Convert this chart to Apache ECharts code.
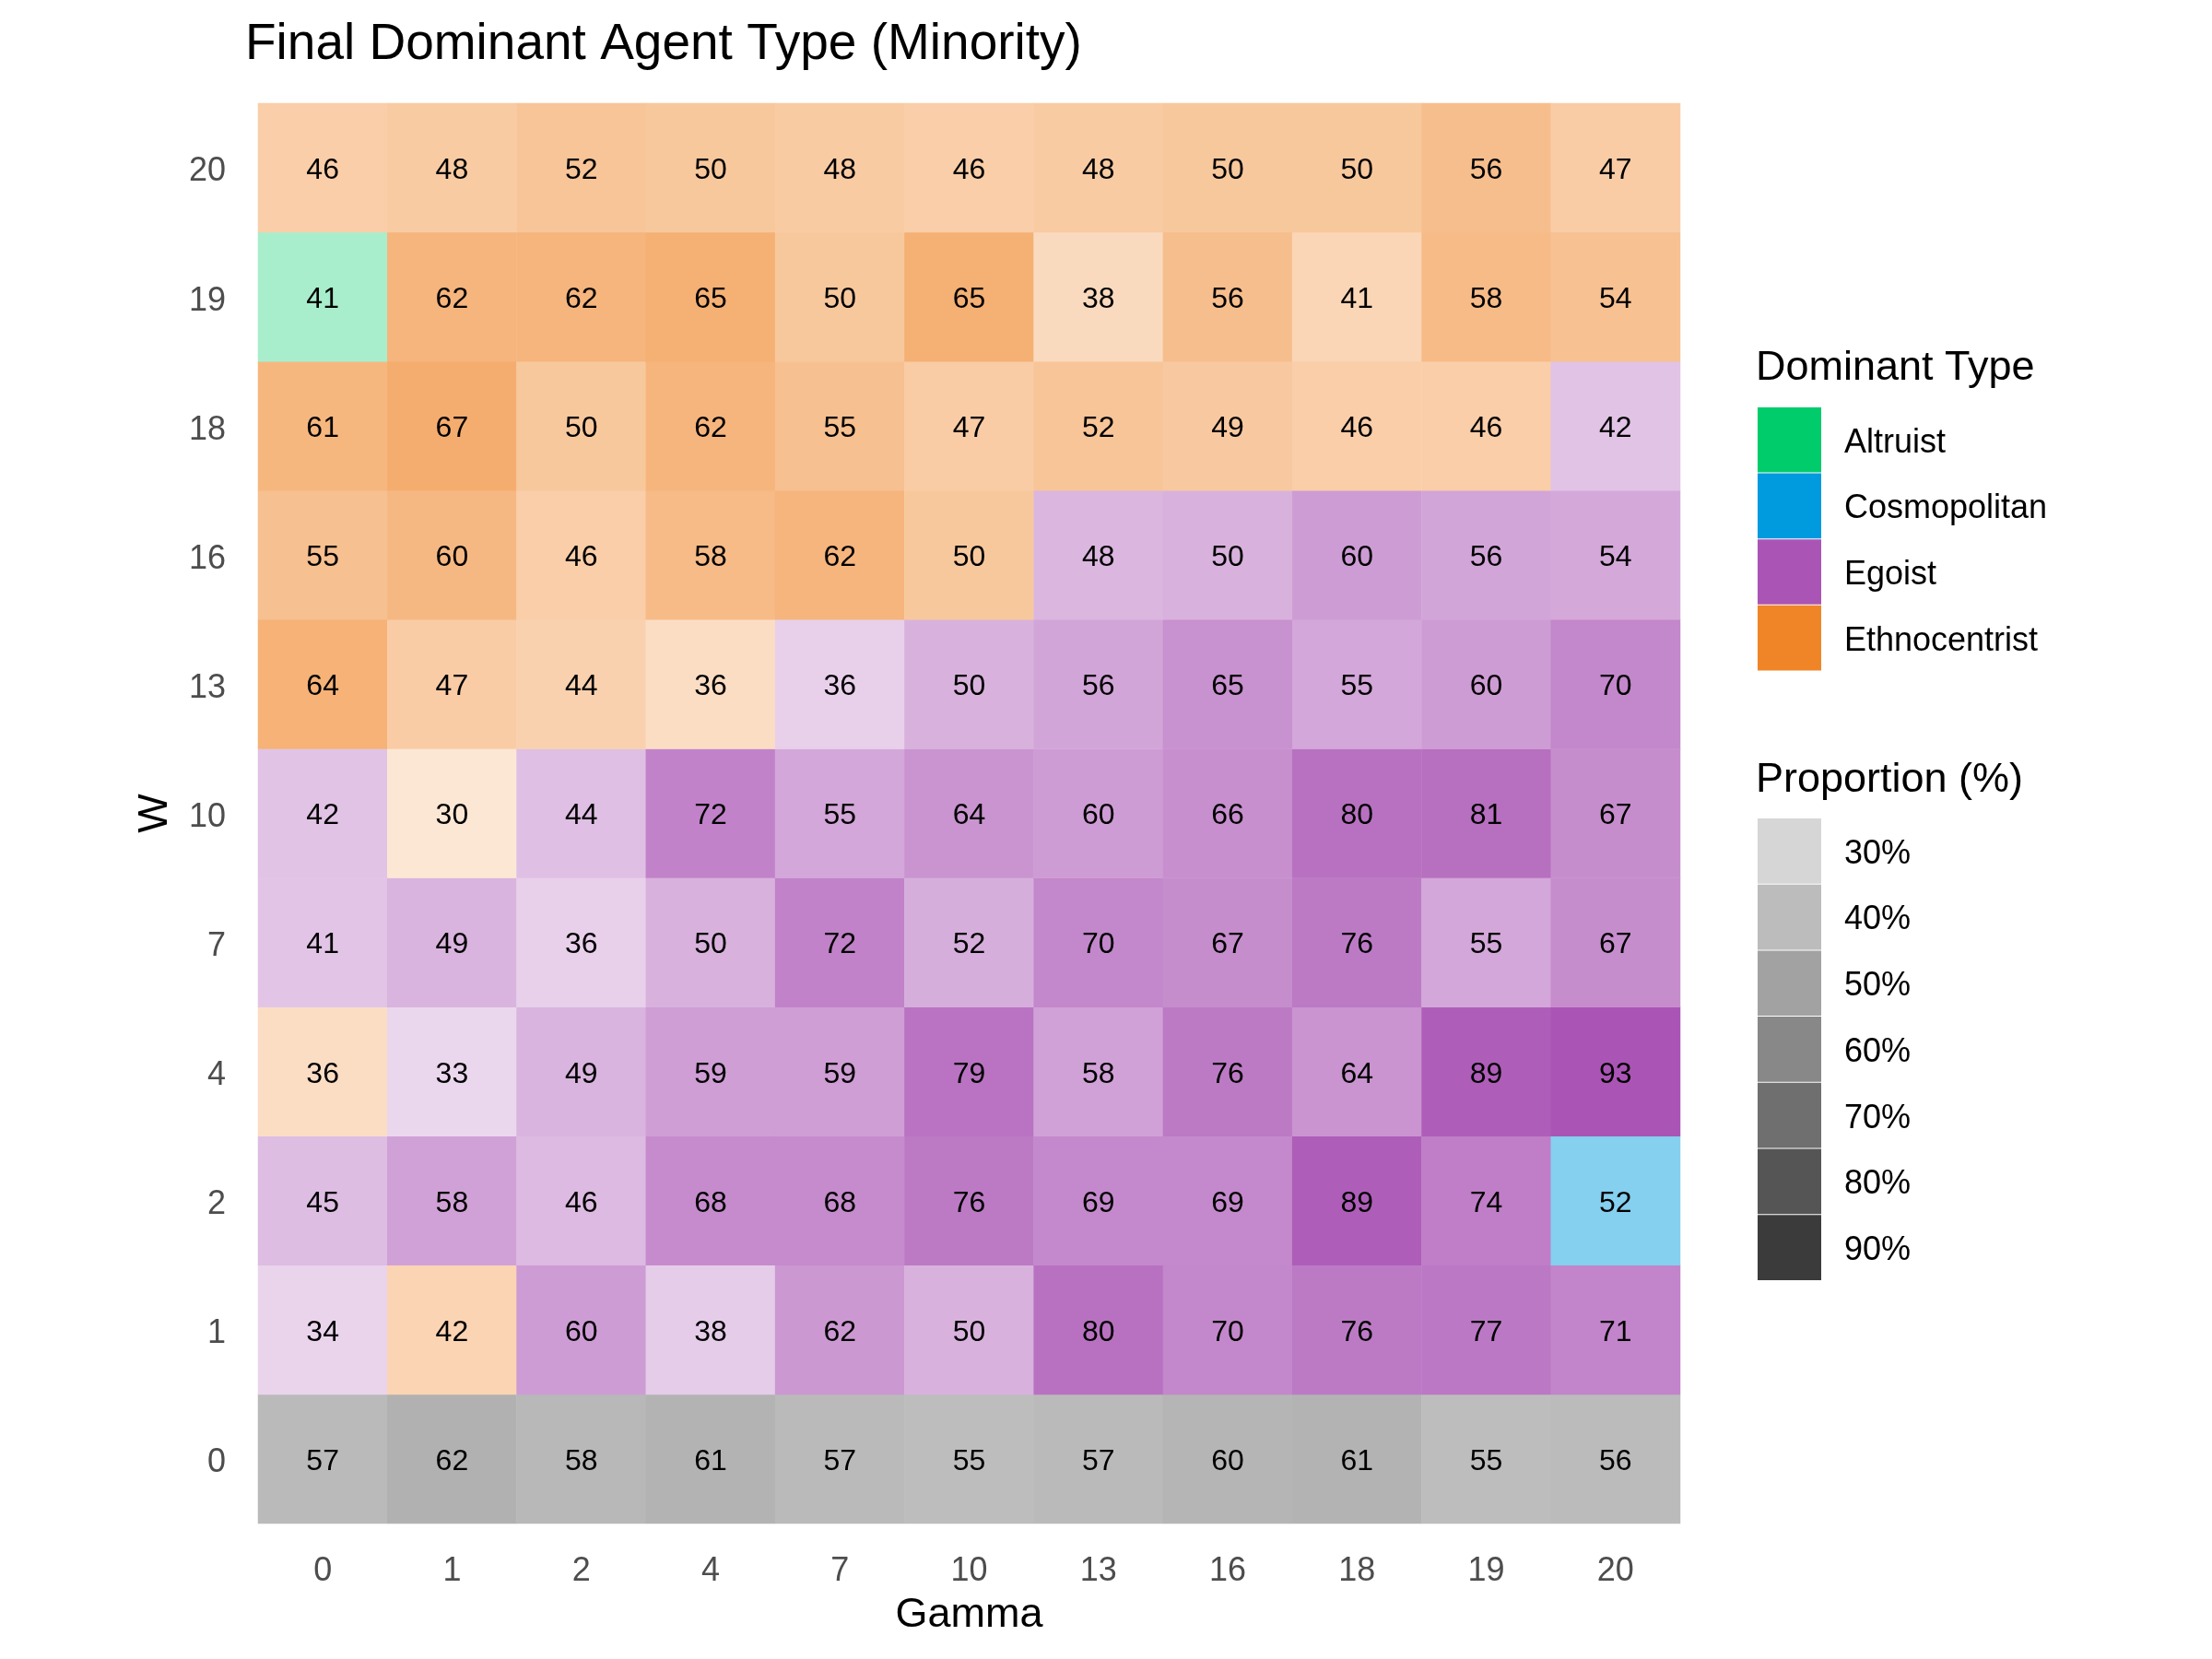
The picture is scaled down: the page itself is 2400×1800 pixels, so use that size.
<!DOCTYPE html>
<html>
<head>
<meta charset="utf-8">
<script src="https://cdn.jsdelivr.net/npm/echarts@6/dist/echarts.min.js"></script>
<style>
  html, body { margin: 0; padding: 0; background: #ffffff; }
  #chart { width: 2400px; height: 1800px; }
</style>
</head>
<body>
<div id="chart"></div>
<script>
// ---- Data ----
const gammaLabels = ['0', '1', '2', '4', '7', '10', '13', '16', '18', '19', '20'];
const wLabels = ['0', '1', '2', '4', '7', '10', '13', '16', '18', '19', '20'];
const typeNames = ['Altruist', 'Cosmopolitan', 'Egoist', 'Ethnocentrist'];
const proportionBreaks = ['30%', '40%', '50%', '60%', '70%', '80%', '90%'];
const proportionBreakValues = [30, 40, 50, 60, 70, 80, 90];

// proportion (%) rows, W ascending (row 0 = W 0), columns follow gammaLabels
const propW0  = [57, 62, 58, 61, 57, 55, 57, 60, 61, 55, 56];
const propW1  = [34, 42, 60, 38, 62, 50, 80, 70, 76, 77, 71];
const propW2  = [45, 58, 46, 68, 68, 76, 69, 69, 89, 74, 52];
const propW4  = [36, 33, 49, 59, 59, 79, 58, 76, 64, 89, 93];
const propW7  = [41, 49, 36, 50, 72, 52, 70, 67, 76, 55, 67];
const propW10 = [42, 30, 44, 72, 55, 64, 60, 66, 80, 81, 67];
const propW13 = [64, 47, 44, 36, 36, 50, 56, 65, 55, 60, 70];
const propW16 = [55, 60, 46, 58, 62, 50, 48, 50, 60, 56, 54];
const propW18 = [61, 67, 50, 62, 55, 47, 52, 49, 46, 46, 42];
const propW19 = [41, 62, 62, 65, 50, 65, 38, 56, 41, 58, 54];
const propW20 = [46, 48, 52, 50, 48, 46, 48, 50, 50, 56, 47];

// dominant type codes: A=Altruist, C=Cosmopolitan, G=Egoist, E=Ethnocentrist, N=none
const typeW0  = ['N','N','N','N','N','N','N','N','N','N','N'];
const typeW1  = ['G','E','G','G','G','G','G','G','G','G','G'];
const typeW2  = ['G','G','G','G','G','G','G','G','G','G','C'];
const typeW4  = ['E','G','G','G','G','G','G','G','G','G','G'];
const typeW7  = ['G','G','G','G','G','G','G','G','G','G','G'];
const typeW10 = ['G','E','G','G','G','G','G','G','G','G','G'];
const typeW13 = ['E','E','E','E','G','G','G','G','G','G','G'];
const typeW16 = ['E','E','E','E','E','E','G','G','G','G','G'];
const typeW18 = ['E','E','E','E','E','E','E','E','E','E','G'];
const typeW19 = ['A','E','E','E','E','E','E','E','E','E','E'];
const typeW20 = ['E','E','E','E','E','E','E','E','E','E','E'];

const propRows = [propW0, propW1, propW2, propW4, propW7, propW10, propW13, propW16, propW18, propW19, propW20];
const typeRows = [typeW0, typeW1, typeW2, typeW4, typeW7, typeW10, typeW13, typeW16, typeW18, typeW19, typeW20];

// ---- Styling ----
const baseColors = { A: [0, 204, 108], C: [0, 154, 222], G: [170, 85, 181], E: [240, 133, 40], N: [127, 127, 127] };
const legendColors = { Altruist: '#00CC6C', Cosmopolitan: '#009ADE', Egoist: '#AA55B5', Ethnocentrist: '#F08528' };
const FONT = '"Liberation Sans", Arial, Helvetica, sans-serif';

let pMin = Infinity, pMax = -Infinity;
propRows.forEach(r => r.forEach(v => { pMin = Math.min(pMin, v); pMax = Math.max(pMax, v); }));
function alphaOf(p) { return 0.2 + 0.8 * (p - pMin) / (pMax - pMin); }
// blend a colour with given alpha over white, returning an opaque colour
function onWhite(c, a) {
  const m = c.map(v => Math.round(255 - a * (255 - v)));
  return 'rgb(' + m[0] + ',' + m[1] + ',' + m[2] + ')';
}

const heatData = [];
propRows.forEach((row, yi) => {
  row.forEach((v, xi) => {
    const t = typeRows[yi][xi];
    heatData.push({ value: [xi, yi, v], itemStyle: { color: onWhite(baseColors[t], alphaOf(v)) } });
  });
});

const legendSeries = typeNames.map(n => ({
  name: n, type: 'scatter', data: [], itemStyle: { color: legendColors[n], opacity: 1 }
}));
const propSeries = proportionBreaks.map((n, i) => ({
  name: n, type: 'scatter', data: [], itemStyle: { color: onWhite([51, 51, 51], alphaOf(proportionBreakValues[i])), opacity: 1 }
}));

const legendText = {
  fontFamily: FONT, fontSize: 36, color: '#000000',
  rich: { t: { fontFamily: FONT, fontSize: 36, color: '#000000', padding: [7, 0, 0, 20] } }
};

const chart = echarts.init(document.getElementById('chart'), null, { renderer: 'canvas' });
chart.setOption({
  animation: false,
  backgroundColor: '#ffffff',
  textStyle: { fontFamily: FONT },
  title: [
    { text: 'Final Dominant Agent Type (Minority)', left: 266, top: 21, padding: 0,
      textStyle: { fontFamily: FONT, fontSize: 55, fontWeight: 'normal', color: '#000000' } },
    { text: 'Dominant Type', left: 1905, top: 377, padding: 0,
      textStyle: { fontFamily: FONT, fontSize: 45, fontWeight: 'normal', color: '#000000' } },
    { text: 'Proportion (%)', left: 1905, top: 824, padding: 0,
      textStyle: { fontFamily: FONT, fontSize: 45, fontWeight: 'normal', color: '#000000' } }
  ],
  grid: { left: 280, right: 577, top: 112, bottom: 147, containLabel: false },
  xAxis: {
    type: 'category', data: gammaLabels,
    name: 'Gamma', nameLocation: 'middle', nameGap: 77,
    nameTextStyle: { fontFamily: FONT, fontSize: 45, color: '#000000' },
    axisLine: { show: false }, axisTick: { show: false }, splitLine: { show: false },
    axisLabel: { fontFamily: FONT, fontSize: 36, color: '#4D4D4D', margin: 34 }
  },
  yAxis: {
    type: 'category', data: wLabels,
    name: 'W', nameLocation: 'middle', nameGap: 89,
    nameTextStyle: { fontFamily: FONT, fontSize: 45, color: '#000000' },
    axisLine: { show: false }, axisTick: { show: false }, splitLine: { show: false },
    axisLabel: {
      fontFamily: FONT, fontSize: 36, color: '#4D4D4D', margin: 35,
      formatter: v => '{t|' + v + '}',
      rich: { t: { fontFamily: FONT, fontSize: 36, color: '#4D4D4D', padding: [9, 0, 0, 0] } }
    }
  },
  legend: [
    { data: typeNames.map(n => ({ name: n, icon: 'rect' })), orient: 'vertical', left: 1907, top: 442, padding: 0,
      itemWidth: 69, itemHeight: 70.6, itemGap: 1, selectedMode: false,
      itemStyle: { opacity: 1 },
      formatter: n => '{t|' + n + '}',
      textStyle: legendText },
    { data: proportionBreaks.map(n => ({ name: n, icon: 'rect' })), orient: 'vertical', left: 1907, top: 888, padding: 0,
      itemWidth: 69, itemHeight: 70.7, itemGap: 1, selectedMode: false,
      itemStyle: { opacity: 1 },
      formatter: n => '{t|' + n + '}',
      textStyle: legendText }
  ],
  series: [
    {
      type: 'heatmap', data: heatData,
      label: { show: true, formatter: p => String(p.value[2]), fontFamily: FONT, fontSize: 32, color: '#000000', offset: [0, 3] },
      emphasis: { disabled: true }
    }
  ].concat(legendSeries, propSeries)
});
</script>
</body>
</html>
